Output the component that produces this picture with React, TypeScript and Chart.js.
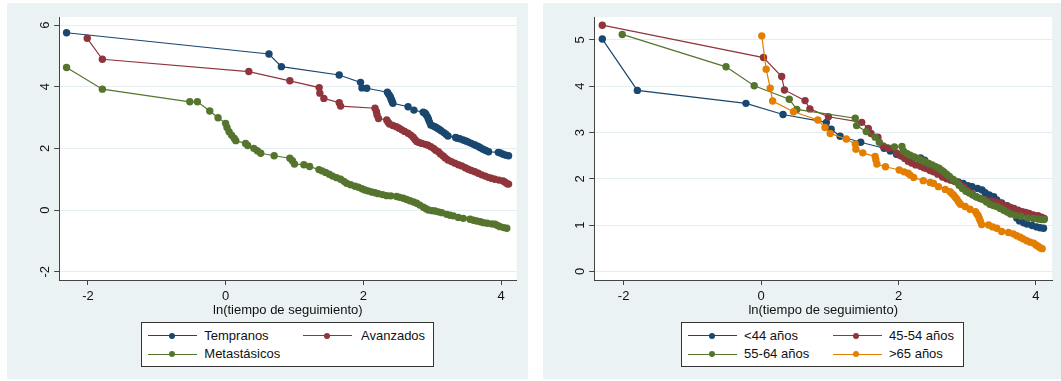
import React, { useEffect, useRef } from "react";
import { Chart, registerables } from "chart.js";

Chart.register(...registerables);

type Pt = [number, number];

const FONT = "'Liberation Sans', Arial, Helvetica, sans-serif";
const AXIS_TITLE = "ln(tiempo de seguimiento)";
const SERIES_COLORS = ["#1a476f", "#90353b", "#55752f", "#e37e00"];

// ---- Left panel: by stage ----
const stageLabels = ["Tempranos", "Avanzados", "Metastásicos"];

const tempranos: Pt[] = [
  [-2.31, 5.75], [0.63, 5.06], [0.81, 4.65], [1.65, 4.38], [1.96, 4.14], [1.98, 3.96], [2.05, 3.95],
  [2.35, 3.82], [2.37, 3.75], [2.39, 3.68], [2.4, 3.62], [2.41, 3.57], [2.42, 3.51], [2.43, 3.46],
  [2.65, 3.35], [2.735, 3.24], [2.87, 3.17], [2.895, 3.15], [2.91, 3.1], [2.93, 3.03], [2.945, 2.95],
  [2.96, 2.86], [2.98, 2.76], [3.01, 2.73], [3.04, 2.7], [3.07, 2.66], [3.1, 2.62], [3.13, 2.57],
  [3.17, 2.51], [3.2, 2.46], [3.23, 2.4], [3.34, 2.35], [3.365, 2.33], [3.4, 2.31], [3.45, 2.27],
  [3.49, 2.24], [3.52, 2.21], [3.56, 2.17], [3.6, 2.13], [3.63, 2.1], [3.67, 2.06], [3.7, 2.02],
  [3.74, 1.97], [3.78, 1.93], [3.82, 1.89], [3.96, 1.87], [3.99, 1.85], [4.03, 1.81], [4.07, 1.78],
  [4.11, 1.76],
];

const avanzados: Pt[] = [
  [-2.01, 5.57], [-1.79, 4.89], [0.337, 4.49], [0.933, 4.19], [1.359, 3.97], [1.369, 3.79], [1.427, 3.62],
  [1.65, 3.48], [1.67, 3.37], [2.17, 3.3], [2.19, 3.19], [2.2, 3.08], [2.22, 2.97], [2.34, 2.92],
  [2.36, 2.85], [2.38, 2.79], [2.43, 2.74], [2.48, 2.7], [2.52, 2.65], [2.56, 2.6], [2.6, 2.55],
  [2.65, 2.49], [2.69, 2.43], [2.725, 2.36], [2.75, 2.29], [2.775, 2.22], [2.81, 2.19], [2.85, 2.16],
  [2.9, 2.13], [2.94, 2.1], [2.98, 2.05], [3.02, 2.0], [3.05, 1.94], [3.09, 1.89], [3.12, 1.82],
  [3.16, 1.75], [3.19, 1.69], [3.23, 1.62], [3.28, 1.57], [3.33, 1.52], [3.38, 1.47], [3.43, 1.43],
  [3.48, 1.37], [3.525, 1.32], [3.57, 1.28], [3.62, 1.24], [3.67, 1.19], [3.72, 1.14], [3.77, 1.1],
  [3.815, 1.06], [3.86, 1.03], [3.91, 1.0], [3.97, 0.97], [4.03, 0.94], [4.06, 0.9], [4.09, 0.85],
  [4.11, 0.84],
];

const metastasicos: Pt[] = [
  [-2.31, 4.62], [-1.79, 3.92], [-0.52, 3.51], [-0.41, 3.51], [-0.23, 3.21], [-0.11, 2.99], [0.0, 2.81],
  [0.02, 2.68], [0.05, 2.54], [0.086, 2.43], [0.124, 2.33], [0.148, 2.25], [0.29, 2.16], [0.32, 2.09],
  [0.41, 2.0], [0.46, 1.92], [0.51, 1.84], [0.705, 1.76], [0.933, 1.68], [0.97, 1.6], [1.0, 1.49],
  [1.137, 1.47], [1.22, 1.41], [1.355, 1.31], [1.4, 1.27], [1.452, 1.22], [1.505, 1.16], [1.554, 1.1],
  [1.612, 1.05], [1.67, 1.0], [1.718, 0.93], [1.757, 0.87], [1.815, 0.82], [1.88, 0.77], [1.93, 0.74],
  [1.98, 0.69], [2.023, 0.65], [2.07, 0.62], [2.121, 0.585], [2.17, 0.56], [2.217, 0.53], [2.28, 0.5],
  [2.339, 0.465], [2.4, 0.46], [2.484, 0.44], [2.53, 0.41], [2.581, 0.38], [2.63, 0.34], [2.678, 0.3],
  [2.73, 0.26], [2.775, 0.22], [2.82, 0.16], [2.873, 0.09], [2.91, 0.04], [2.945, 0.0], [3.0, -0.02],
  [3.041, -0.03], [3.09, -0.06], [3.139, -0.086], [3.211, -0.14], [3.26, -0.17], [3.308, -0.19],
  [3.38, -0.24], [3.453, -0.27], [3.55, -0.3], [3.6, -0.33], [3.648, -0.355], [3.7, -0.38],
  [3.745, -0.41], [3.8, -0.43], [3.87, -0.45], [3.914, -0.46], [3.95, -0.5], [3.987, -0.54],
  [4.04, -0.57], [4.084, -0.59],
];

const leftXTicks = [-2, 0, 2, 4];
const leftYTicks = [-2, 0, 2, 4, 6];

// ---- Right panel: by age group ----
const ageLabels = ["<44 años", "45-54 años", "55-64 años", ">65 años"];

const menos44: Pt[] = [
  [-2.31, 5.02], [-1.8, 3.91], [-0.22, 3.63], [0.32, 3.39], [0.95, 3.22], [1.02, 3.07], [1.15, 2.92],
  [1.45, 2.79], [1.79, 2.66], [1.88, 2.6], [1.97, 2.53], [2.05, 2.49], [2.12, 2.48], [2.22, 2.46],
  [2.32, 2.45], [2.38, 2.4], [2.41, 2.34], [2.48, 2.26], [2.55, 2.18], [2.62, 2.11], [2.68, 2.05],
  [2.74, 2.01], [2.8, 1.97], [2.87, 1.93], [2.94, 1.9], [3.01, 1.85], [3.07, 1.83], [3.15, 1.79],
  [3.215, 1.76], [3.26, 1.7], [3.32, 1.65], [3.385, 1.61], [3.43, 1.54], [3.5, 1.48], [3.58, 1.42],
  [3.64, 1.36], [3.68, 1.26], [3.72, 1.15], [3.76, 1.09], [3.82, 1.05], [3.87, 1.02], [3.945, 0.99],
  [4.01, 0.96], [4.06, 0.94], [4.11, 0.93],
];

const de45a54: Pt[] = [
  [-2.31, 5.32], [0.035, 4.62], [0.3, 4.21], [0.34, 3.92], [0.64, 3.69], [0.71, 3.51], [0.98, 3.34],
  [1.465, 3.22], [1.56, 3.09], [1.6, 2.98], [1.7, 2.9], [1.775, 2.71], [1.85, 2.66], [1.97, 2.56],
  [2.03, 2.5], [2.09, 2.44], [2.14, 2.38], [2.19, 2.34], [2.25, 2.3], [2.32, 2.27], [2.37, 2.24],
  [2.41, 2.22], [2.46, 2.18], [2.51, 2.15], [2.57, 2.1], [2.64, 2.04], [2.7, 2.0], [2.76, 1.97],
  [2.82, 1.94], [2.88, 1.9], [2.95, 1.83], [3.01, 1.75], [3.07, 1.68], [3.13, 1.61], [3.2, 1.57],
  [3.26, 1.55], [3.35, 1.52], [3.41, 1.5], [3.48, 1.47], [3.53, 1.43], [3.58, 1.4], [3.63, 1.38],
  [3.68, 1.36], [3.74, 1.32], [3.8, 1.29], [3.85, 1.27], [3.9, 1.25], [3.96, 1.22], [4.03, 1.2],
  [4.08, 1.17], [4.12, 1.14],
];

const de55a64: Pt[] = [
  [-2.02, 5.12], [-0.51, 4.42], [-0.1, 4.01], [0.41, 3.72], [0.52, 3.5], [1.37, 3.31], [1.39, 3.15],
  [1.53, 3.02], [1.66, 2.9], [1.72, 2.79], [1.94, 2.69], [2.05, 2.7], [2.07, 2.6], [2.12, 2.55],
  [2.17, 2.51], [2.23, 2.47], [2.29, 2.44], [2.33, 2.4], [2.38, 2.37], [2.44, 2.33], [2.49, 2.3],
  [2.54, 2.26], [2.59, 2.23], [2.63, 2.18], [2.66, 2.15], [2.7, 2.1], [2.74, 2.05], [2.79, 1.99],
  [2.84, 1.94], [2.88, 1.86], [2.93, 1.79], [2.98, 1.73], [3.03, 1.69], [3.08, 1.65], [3.13, 1.61],
  [3.18, 1.58], [3.23, 1.55], [3.28, 1.5], [3.33, 1.45], [3.38, 1.42], [3.43, 1.4], [3.48, 1.36],
  [3.53, 1.32], [3.58, 1.28], [3.63, 1.24], [3.7, 1.21], [3.78, 1.19], [3.88, 1.15], [3.96, 1.14],
  [4.03, 1.13], [4.08, 1.12], [4.12, 1.12],
];

const mas65: Pt[] = [
  [0.01, 5.09], [0.074, 4.37], [0.133, 3.96], [0.168, 3.68], [0.472, 3.45], [0.826, 3.27], [0.93, 3.11],
  [1.006, 2.98], [1.24, 2.86], [1.37, 2.75], [1.38, 2.64], [1.48, 2.56], [1.66, 2.48], [1.67, 2.41],
  [1.685, 2.32], [1.81, 2.26], [2.01, 2.19], [2.08, 2.15], [2.14, 2.12], [2.17, 2.08], [2.22, 2.03],
  [2.36, 1.96], [2.46, 1.92], [2.51, 1.9], [2.58, 1.83], [2.68, 1.77], [2.75, 1.72], [2.775, 1.68],
  [2.8, 1.65], [2.825, 1.6], [2.85, 1.56], [2.875, 1.5], [2.9, 1.45], [2.97, 1.4], [3.04, 1.34],
  [3.12, 1.29], [3.14, 1.24], [3.16, 1.2], [3.175, 1.14], [3.19, 1.09], [3.21, 1.01], [3.31, 1.0],
  [3.37, 0.96], [3.43, 0.93], [3.5, 0.86], [3.6, 0.84], [3.67, 0.81], [3.72, 0.77], [3.77, 0.735],
  [3.815, 0.7], [3.865, 0.66], [3.915, 0.63], [3.965, 0.61], [4.0, 0.57], [4.03, 0.54], [4.06, 0.51],
  [4.09, 0.49],
];

const rightXTicks = [-2, 0, 2, 4];
const rightYTicks = [0, 1, 2, 3, 4, 5];

// ---- drawing helpers ----
const plotAreaPlugin = {
  id: "plotAreaFill",
  beforeDraw(chart: any) {
    const { ctx, chartArea } = chart;
    ctx.save();
    ctx.fillStyle = "#ffffff";
    ctx.fillRect(chartArea.left, chartArea.top, chartArea.right - chartArea.left, chartArea.bottom - chartArea.top);
    ctx.restore();
  },
};

// vertical (bottom-to-top) y tick labels
const rotatedYLabels = {
  id: "rotatedYLabels",
  afterDraw(chart: any) {
    const { ctx, chartArea } = chart;
    const ys = chart.scales.y;
    ctx.save();
    ctx.fillStyle = "#111";
    ctx.font = `13px ${FONT}`;
    ctx.textAlign = "center";
    ctx.textBaseline = "alphabetic";
    for (const t of ys.ticks) {
      const py = ys.getPixelForValue(t.value);
      ctx.save();
      ctx.translate(chartArea.left - 10.5, py);
      ctx.rotate(-Math.PI / 2);
      ctx.fillText(String(t.value), 0, 0);
      ctx.restore();
    }
    ctx.restore();
  },
};

type PanelProps = {
  series: Pt[][];
  labels: string[];
  xMin: number; xMax: number; yMin: number; yMax: number;
  xTicks: number[]; yTicks: number[];
  bgLeft: number; bgWidth: number;
  canvasLeft: number; canvasWidth: number;
  padLeft: number; padRight: number;
  legendLeft: number; legendWidth: number;
  col2: { lineStart: number; lineEnd: number; dot: number; text: number };
};

const CANVAS_H = 381;
const PLOT_TOP = 17;
const PLOT_BOTTOM = 280;
const X_SCALE_H = 40;
const Y_SCALE_W = 30;

function Panel(p: PanelProps) {
  const ref = useRef<HTMLCanvasElement>(null);

  useEffect(() => {
    const datasets = p.series.map((pts, i) => ({
      label: p.labels[i],
      data: pts.map(([x, y]) => ({ x, y })),
      showLine: true,
      borderColor: SERIES_COLORS[i],
      backgroundColor: SERIES_COLORS[i],
      borderWidth: 1.2,
      pointRadius: 3.7,
      pointBorderWidth: 0,
      pointBackgroundColor: SERIES_COLORS[i],
      order: p.series.length - i,
    }));

    const chart = new Chart(ref.current as HTMLCanvasElement, {
      type: "scatter",
      data: { datasets },
      plugins: [plotAreaPlugin, rotatedYLabels],
      options: {
        animation: false,
        responsive: false,
        devicePixelRatio: 1,
        events: [],
        layout: {
          padding: {
            top: PLOT_TOP,
            left: p.padLeft,
            right: p.padRight,
            bottom: CANVAS_H - PLOT_BOTTOM - X_SCALE_H,
          },
        },
        plugins: { legend: { display: false }, tooltip: { enabled: false }, title: { display: false } },
        scales: {
          x: {
            type: "linear",
            min: p.xMin,
            max: p.xMax,
            afterBuildTicks: (s: any) => { s.ticks = p.xTicks.map((v) => ({ value: v })); },
            afterFit: (s: any) => { s.height = X_SCALE_H; },
            grid: { drawOnChartArea: false, drawTicks: true, tickLength: 5, tickColor: "#444", tickWidth: 1 },
            border: { display: true, color: "#444", width: 1 },
            ticks: {
              color: "#111",
              font: { family: FONT, size: 13 },
              padding: 4,
              maxRotation: 0,
              autoSkip: false,
              callback: (v: any) => String(v),
            },
          },
          y: {
            type: "linear",
            min: p.yMin,
            max: p.yMax,
            afterBuildTicks: (s: any) => { s.ticks = p.yTicks.map((v) => ({ value: v })); },
            afterFit: (s: any) => { s.width = Y_SCALE_W; },
            grid: { color: "#e4eef0", lineWidth: 1, drawTicks: true, tickLength: 5, tickColor: "#444", tickWidth: 1 },
            border: { display: true, color: "#444", width: 1 },
            ticks: { display: false },
          },
        },
      } as any,
    });
    return () => chart.destroy();
  }, []);

  const plotLeft = p.canvasLeft + p.padLeft + Y_SCALE_W;
  const plotRight = p.canvasLeft + p.canvasWidth - p.padRight;
  const legendTop = 321.7;
  const rows = [14, 32.6];
  const col1 = { lineStart: 6.5, lineEnd: 55.7, dot: 31, text: 63 };

  return (
    <>
      <div
        style={{
          position: "absolute", left: p.bgLeft, top: 3, width: p.bgWidth, height: 376,
          background: "#eaf2f3",
        }}
      />
      <canvas
        ref={ref}
        width={p.canvasWidth}
        height={CANVAS_H}
        style={{ position: "absolute", left: p.canvasLeft, top: 0, width: p.canvasWidth, height: CANVAS_H }}
      />
      <div
        style={{
          position: "absolute", left: plotLeft, width: plotRight - plotLeft, top: 301.8,
          lineHeight: "15px", fontSize: 13, textAlign: "center", color: "#111", whiteSpace: "nowrap",
        }}
      >
        {AXIS_TITLE}
      </div>
      <div
        style={{
          position: "absolute", left: p.legendLeft, top: legendTop, width: p.legendWidth, height: 45,
          boxSizing: "border-box", border: "1px solid #333", background: "#fff",
        }}
      />
      {p.labels.map((lab, i) => {
        const c = i % 2 === 0 ? col1 : p.col2;
        const cy = legendTop + rows[Math.floor(i / 2)];
        const color = SERIES_COLORS[i];
        return (
          <React.Fragment key={lab}>
            <div
              style={{
                position: "absolute", left: p.legendLeft + c.lineStart, top: cy - 0.5,
                width: c.lineEnd - c.lineStart, height: 1, background: color,
              }}
            />
            <div
              style={{
                position: "absolute", left: p.legendLeft + c.dot - 3, top: cy - 3,
                width: 6, height: 6, borderRadius: "50%", background: color,
              }}
            />
            <div
              style={{
                position: "absolute", left: p.legendLeft + c.text, top: cy - 8,
                lineHeight: "16px", fontSize: 13, color: "#111", whiteSpace: "nowrap",
              }}
            >
              {lab}
            </div>
          </React.Fragment>
        );
      })}
    </>
  );
}

export default function App() {
  return (
    <div
      style={{
        position: "absolute", left: 0, top: 0, width: 1061, height: 381, overflow: "hidden",
        background: "#ffffff", fontFamily: FONT,
      }}
    >
      <Panel
        series={[tempranos, avanzados, metastasicos]}
        labels={stageLabels}
        xMin={-2.417} xMax={4.225} yMin={-2.27} yMax={6.26}
        xTicks={leftXTicks} yTicks={leftYTicks}
        bgLeft={7} bgWidth={521}
        canvasLeft={0} canvasWidth={530}
        padLeft={29.2} padRight={13.5}
        legendLeft={141.3} legendWidth={292.3}
        col2={{ lineStart: 161.9, lineEnd: 211.2, dot: 186, text: 219.7 }}
      />
      <Panel
        series={[menos44, de45a54, de55a64, mas65]}
        labels={ageLabels}
        xMin={-2.428} xMax={4.236} yMin={-0.188} yMax={5.497}
        xTicks={rightXTicks} yTicks={rightYTicks}
        bgLeft={543} bgWidth={518}
        canvasLeft={530} canvasWidth={531}
        padLeft={34.2} padRight={8.8}
        legendLeft={681.1} legendWidth={282.5}
        col2={{ lineStart: 151.4, lineEnd: 200.4, dot: 175.1, text: 207.9 }}
      />
    </div>
  );
}
